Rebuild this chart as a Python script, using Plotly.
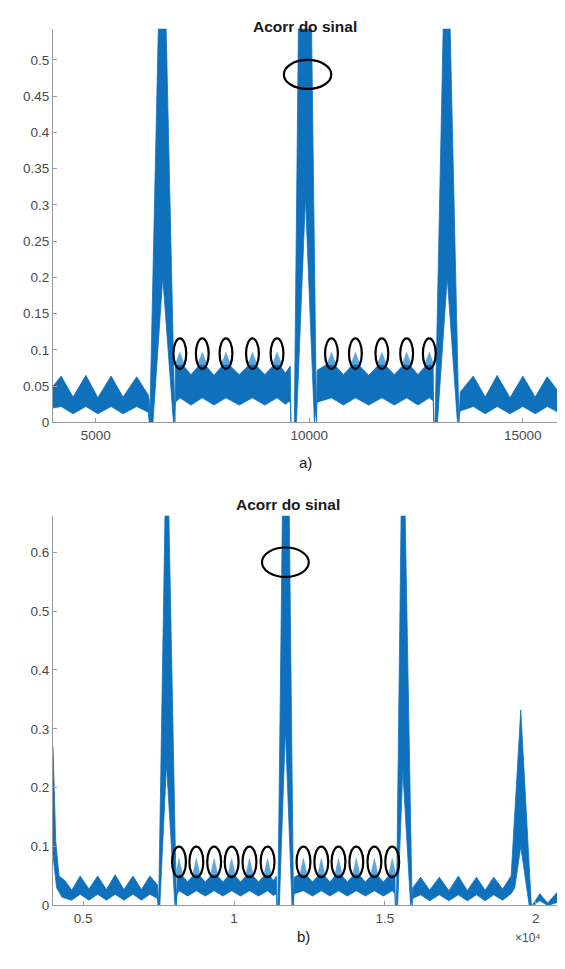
import plotly.graph_objects as go

# ---------------- panel a) ----------------
# upper / lower envelopes of the autocorrelation band (lag in samples)
a_up_x = [4000, 4190, 4470, 4770, 5050, 5360, 5640, 5960, 6230, 6255,
          6265, 6465, 6560, 6650, 6855,
          6870, 6970, 7230, 7495, 7770, 8050, 8360, 8670, 8960, 9245, 9440, 9555, 9570,
          9650, 9745, 9910, 10055, 10170,
          10185, 10520, 10800, 11080, 11390, 11700, 11990, 12280, 12545, 12810, 12900, 12915,
          12945, 13135, 13225, 13300, 13505,
          13535, 13840, 14120, 14400, 14700, 15000, 15290, 15570, 15800]
a_up_y = [0.050, 0.064, 0.035, 0.065, 0.034, 0.064, 0.035, 0.063, 0.038, 0.030,
          0.0, 0.54, 0.80, 0.54, 0.0,
          0.078, 0.084, 0.066, 0.084, 0.065, 0.084, 0.066, 0.084, 0.066, 0.084, 0.068, 0.078, 0.0,
          0.0, 0.54, 1.00, 0.54, 0.0,
          0.072, 0.084, 0.066, 0.084, 0.065, 0.084, 0.066, 0.084, 0.066, 0.084, 0.076, 0.0,
          0.0, 0.54, 0.80, 0.54, 0.0,
          0.042, 0.064, 0.035, 0.065, 0.034, 0.064, 0.035, 0.063, 0.045]
a_lo_x = [4000, 4190, 4470, 4770, 5050, 5360, 5640, 5960, 6230, 6255,
          6340, 6570, 6820,
          6870, 6970, 7230, 7495, 7770, 8050, 8360, 8670, 8960, 9245, 9440, 9555, 9570,
          9700, 9910, 10120,
          10185, 10520, 10800, 11080, 11390, 11700, 11990, 12280, 12545, 12810, 12900, 12915,
          13000, 13230, 13470,
          13535, 13840, 14120, 14400, 14700, 15000, 15290, 15570, 15800]
a_lo_y = [0.020, 0.022, 0.012, 0.022, 0.012, 0.022, 0.012, 0.022, 0.014, 0.0,
          0.0, 0.20, 0.0,
          0.028, 0.034, 0.024, 0.034, 0.024, 0.034, 0.024, 0.034, 0.024, 0.034, 0.025, 0.030, 0.0,
          0.0, 0.31, 0.0,
          0.028, 0.034, 0.024, 0.034, 0.024, 0.034, 0.024, 0.034, 0.024, 0.034, 0.030, 0.0,
          0.0, 0.20, 0.0,
          0.016, 0.022, 0.012, 0.022, 0.012, 0.022, 0.012, 0.022, 0.015]
# marked side-lobe crests and main-lobe marker
a_marks_x = [6970, 7495, 8050, 8670, 9245, 10520, 11080, 11700, 12280, 12810]
a_marks_y = 0.095
a_tip_top = 0.097
a_main_mark = (9960, 0.48)

# ---------------- panel b) ----------------
b_up_x = [4000, 4090, 4200, 4400, 4620, 4900, 5190, 5480, 5770, 6060, 6350, 6650, 6930, 7210,
          7460, 7480,
          7500, 7710, 7770, 7840, 8090,
          8120, 8175, 8460, 8750, 9045, 9340, 9630, 9920, 10215, 10510, 10810, 11110, 11300, 11400, 11420,
          11450, 11600, 11700, 11830, 11970,
          11990, 12300, 12600, 12890, 13175, 13460, 13755, 14050, 14350, 14650, 14945, 15240, 15330, 15345,
          15380, 15520, 15590, 15670, 15900,
          15920, 16180, 16480, 16800, 17120, 17430, 17730, 18030, 18320, 18600, 18900, 19180,
          19500, 19850,
          19880, 20130, 20390, 20700]
b_up_y = [0.270, 0.110, 0.050, 0.042, 0.026, 0.050, 0.028, 0.050, 0.027, 0.052, 0.027, 0.050, 0.027, 0.050,
          0.035, 0.0,
          0.0, 0.66, 0.95, 0.66, 0.0,
          0.052, 0.057, 0.040, 0.057, 0.040, 0.057, 0.040, 0.057, 0.040, 0.057, 0.040, 0.057, 0.042, 0.050, 0.0,
          0.0, 0.66, 1.00, 0.66, 0.0,
          0.048, 0.057, 0.040, 0.057, 0.040, 0.057, 0.040, 0.057, 0.040, 0.057, 0.040, 0.057, 0.050, 0.0,
          0.0, 0.66, 0.90, 0.66, 0.0,
          0.030, 0.048, 0.026, 0.048, 0.025, 0.050, 0.025, 0.048, 0.026, 0.048, 0.028, 0.050,
          0.332, 0.0,
          0.0, 0.020, 0.004, 0.022]
b_lo_x = [4000, 4120, 4300, 4620, 4900, 5190, 5480, 5770, 6060, 6350, 6650, 6930, 7210,
          7460, 7480,
          7540, 7760, 8040,
          8120, 8175, 8460, 8750, 9045, 9340, 9630, 9920, 10215, 10510, 10810, 11110, 11300, 11400, 11420,
          11500, 11700, 11920,
          11990, 12300, 12600, 12890, 13175, 13460, 13755, 14050, 14350, 14650, 14945, 15240, 15330, 15345,
          15420, 15590, 15850,
          15920, 16180, 16480, 16800, 17120, 17430, 17730, 18030, 18320, 18600, 18900, 19180,
          19300, 19500, 19780,
          19880, 20130, 20390, 20700]
b_lo_y = [0.085, 0.030, 0.014, 0.009, 0.019, 0.009, 0.019, 0.009, 0.019, 0.009, 0.019, 0.009, 0.019,
          0.012, 0.0,
          0.0, 0.24, 0.0,
          0.020, 0.025, 0.016, 0.025, 0.016, 0.025, 0.016, 0.025, 0.016, 0.025, 0.016, 0.025, 0.017, 0.020, 0.0,
          0.0, 0.30, 0.0,
          0.020, 0.025, 0.016, 0.025, 0.016, 0.025, 0.016, 0.025, 0.016, 0.025, 0.016, 0.025, 0.020, 0.0,
          0.0, 0.23, 0.0,
          0.012, 0.018, 0.008, 0.018, 0.008, 0.018, 0.008, 0.018, 0.008, 0.018, 0.009, 0.020,
          0.030, 0.100, 0.0,
          0.0, 0.008, 0.0, 0.005]
b_marks_x = [8175, 8750, 9340, 9920, 10510, 11110, 12300, 12890, 13460, 14050, 14650, 15240]
b_marks_y = 0.074
b_tip_top = 0.080
b_main_mark = (11700, 0.583)

a_yticks = [0, 0.05, 0.1, 0.15, 0.2, 0.25, 0.3, 0.35, 0.4, 0.45, 0.5]
a_xticks = [5000, 10000, 15000]
b_yticks = [0, 0.1, 0.2, 0.3, 0.4, 0.5, 0.6]
b_xticks = [5000, 10000, 15000, 20000]
b_xticklabels = ["0.5", "1", "1.5", "2"]

BLUE = "#0F71BC"
LIGHT = "#5DA6DC"
AXIS = "#9a9a9a"
TXT = "#4a4a4a"
FONT = "Liberation Sans, Arial, sans-serif"

W, H = 565, 969
L, R = 53, 557


def band(xu, yu, xl, yl, xa, ya):
    return go.Scatter(x=list(xu) + list(xl)[::-1], y=list(yu) + list(yl)[::-1],
                      fill="toself", fillcolor=BLUE, mode="lines",
                      line=dict(color=BLUE, width=0.8), xaxis=xa, yaxis=ya,
                      hoverinfo="skip", showlegend=False)


def tips(xs, base_x, base_y, top, hw, xa, ya):
    # light crest of each marked side lobe, standing on the dark band
    tx, ty = [], []
    for x in xs:
        b = min(y for bx, y in zip(base_x, base_y) if abs(bx - x) < 1) - 0.004
        tx += [x - hw, x, x + hw, x - hw, None]
        ty += [b, top, b, b, None]
    return go.Scatter(x=tx, y=ty, fill="toself", fillcolor=LIGHT, mode="lines",
                      line=dict(color=LIGHT, width=0.5), xaxis=xa, yaxis=ya,
                      hoverinfo="skip", showlegend=False)


fig = go.Figure()
fig.add_trace(band(a_up_x, a_up_y, a_lo_x, a_lo_y, "x", "y"))
fig.add_trace(tips(a_marks_x, a_up_x, a_up_y, a_tip_top, 110, "x", "y"))
fig.add_trace(band(b_up_x, b_up_y, b_lo_x, b_lo_y, "x2", "y2"))
fig.add_trace(tips(b_marks_x, b_up_x, b_up_y, b_tip_top, 120, "x2", "y2"))

shapes = []
ring = dict(type="circle", line=dict(color="black", width=2.2), fillcolor="rgba(0,0,0,0)", layer="above")
for x in a_marks_x:
    shapes.append(dict(ring, xref="x", yref="y", x0=x - 150, x1=x + 150,
                       y0=a_marks_y - 0.021, y1=a_marks_y + 0.021))
cx, cy = a_main_mark
shapes.append(dict(ring, xref="x", yref="y", x0=cx - 555, x1=cx + 555, y0=cy - 0.020, y1=cy + 0.020))
for x in b_marks_x:
    shapes.append(dict(ring, xref="x2", yref="y2", x0=x - 230, x1=x + 230,
                       y0=b_marks_y - 0.026, y1=b_marks_y + 0.026))
cx, cy = b_main_mark
shapes.append(dict(ring, xref="x2", yref="y2", x0=cx - 775, x1=cx + 775, y0=cy - 0.025, y1=cy + 0.025))

axis_common = dict(showline=True, linecolor=AXIS, linewidth=1, ticks="inside", ticklen=4,
                   tickcolor=AXIS, showgrid=False, zeroline=False,
                   tickfont=dict(family=FONT, size=13.5, color=TXT), fixedrange=True)

title_font = dict(family=FONT, size=15.5, color="#1a1a1a", weight="bold")
label_font = dict(family=FONT, size=15, color="#1a1a1a")

dom_x = [L / W, R / W]
fig.update_layout(
    width=W, height=H, margin=dict(l=0, r=0, t=0, b=0),
    paper_bgcolor="white", plot_bgcolor="white", showlegend=False,
    xaxis=dict(axis_common, domain=dom_x, range=[4000, 15800], tickvals=a_xticks,
               ticktext=[str(v) for v in a_xticks], anchor="y"),
    yaxis=dict(axis_common, domain=[1 - 426 / H, 1 - 29 / H], range=[0, 0.543],
               tickvals=a_yticks, ticktext=[f"{v:g}" for v in a_yticks], anchor="x"),
    xaxis2=dict(axis_common, domain=dom_x, range=[4000, 20700], tickvals=b_xticks,
                ticktext=b_xticklabels, anchor="y2"),
    yaxis2=dict(axis_common, domain=[1 - 913 / H, 1 - 520 / H], range=[0, 0.662],
                tickvals=b_yticks, ticktext=[f"{v:g}" for v in b_yticks], anchor="x2"),
    shapes=shapes,
    annotations=[
        dict(text="Acorr do sinal", x=305 / W, y=1 - 16 / H, xref="paper", yref="paper",
             showarrow=False, font=title_font),
        dict(text="a)", x=305 / W, y=1 - 466 / H, xref="paper", yref="paper",
             showarrow=False, font=label_font),
        dict(text="Acorr do sinal", x=288 / W, y=1 - 509 / H, xref="paper", yref="paper",
             showarrow=False, font=title_font),
        dict(text="b)", x=303 / W, y=1 - 955 / H, xref="paper", yref="paper",
             showarrow=False, font=label_font),
        dict(text="×10⁴", x=543 / W, y=1 - 955 / H, xref="paper", yref="paper",
             showarrow=False, font=dict(family=FONT, size=12, color=TXT)),
    ],
)

fig.write_html("out.html")
